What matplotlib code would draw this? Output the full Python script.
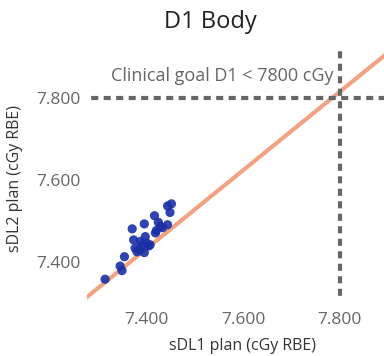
import matplotlib
matplotlib.use("Agg")
import matplotlib.pyplot as plt
from matplotlib.ticker import FuncFormatter

# D1 body dose per patient (cGy RBE)
sdl1 = [7315, 7346, 7350, 7355, 7371, 7374, 7377, 7381, 7388, 7386,
        7396, 7398, 7396, 7401, 7408, 7417, 7419, 7425, 7430, 7434,
        7444, 7444, 7452, 7449, 7421, 7392, 7405]
sdl2 = [7357, 7389, 7378, 7412, 7480, 7453, 7433, 7424, 7449, 7429,
        7492, 7461, 7422, 7445, 7441, 7512, 7470, 7496, 7486, 7483,
        7490, 7536, 7541, 7520, 7476, 7440, 7438]
goal = 7800
ticks = [7400, 7600, 7800]
# trend line
fit_slope = 0.96
fit_at_goal = 7815

plt.rcParams['font.family'] = ['Open Sans', 'DejaVu Sans']

fig = plt.figure(figsize=(3.84, 3.56), dpi=100)
ax = fig.add_axes([0.227, 0.157, 0.773, 0.703])

ax.axline((goal, fit_at_goal), slope=fit_slope, color='#f2a383', lw=3, zorder=1)
ax.axhline(goal, color='#666666', lw=3, ls=(5, (1.7, 1.3)), zorder=2)
ax.axvline(goal, color='#666666', lw=3, ls=(2, (1.7, 1.3)), zorder=2)
ax.scatter(sdl1, sdl2, s=44, color='#1a2fa6', alpha=0.9, edgecolors='none', zorder=3)

ax.text(goal - 14, goal + 40, 'Clinical goal D1 < 7800 cGy', ha='right', va='baseline',
        fontsize=13, color='#666666')

ax.set_xlim(7278, 7891)
ax.set_ylim(7306, 7917)
ax.set_xticks(ticks)
ax.set_yticks(ticks)
fmt = FuncFormatter(lambda v, p: f"{v:,.0f}".replace(',', '.'))
ax.xaxis.set_major_formatter(fmt)
ax.yaxis.set_major_formatter(fmt)
ax.tick_params(length=0, labelsize=12.5, labelcolor='#666666')
ax.tick_params(axis='x', pad=8.5)
ax.tick_params(axis='y', pad=4.5)
for s in ax.spines.values():
    s.set_visible(False)

ax.set_xlabel('sDL1 plan (cGy RBE)', fontsize=11.5, color='#333333')
ax.set_ylabel('sDL2 plan (cGy RBE)', fontsize=11.5, color='#333333')
ax.xaxis.set_label_coords(0.524, -0.152)
ax.yaxis.set_label_coords(-0.215, 0.484)
fig.text(0.547, 0.9205, 'D1 Body', ha='center', va='baseline', fontsize=17, color='#222222')

fig.savefig('out.png', dpi=100)
